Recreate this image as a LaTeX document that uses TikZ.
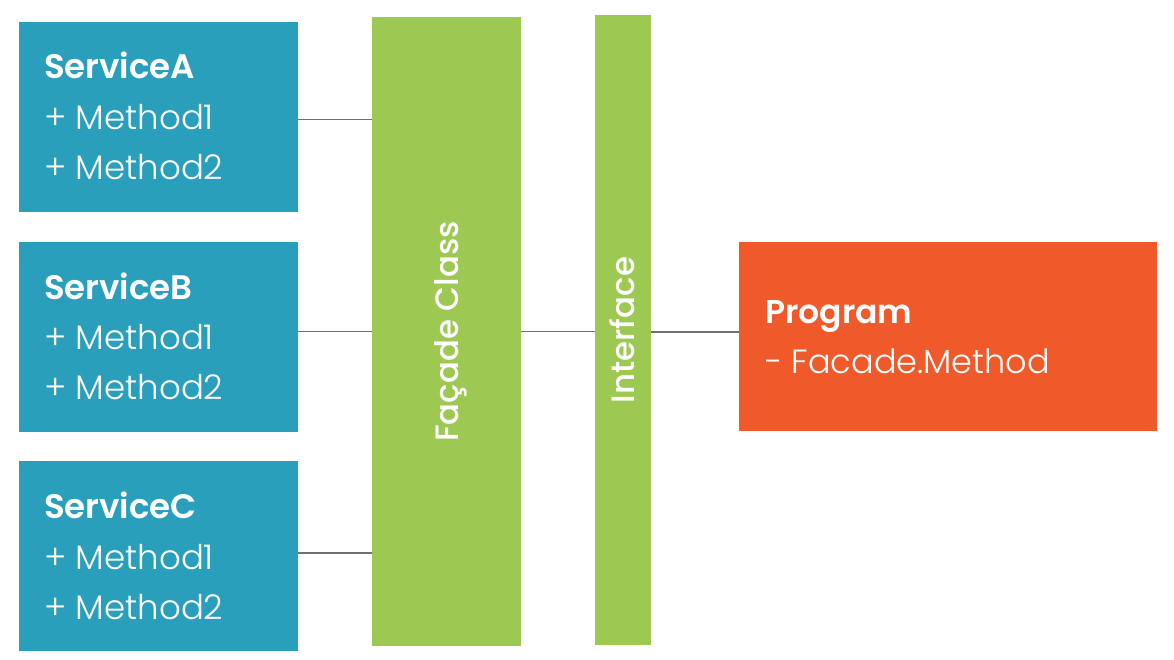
\documentclass[tikz,border=0pt]{standalone}
\usepackage{fontspec}
\setmainfont{Poppins}[UprightFont=* Light, BoldFont=* SemiBold]
\newfontfamily\vfont{Poppins}[UprightFont=* Medium]
\definecolor{svcblue}{HTML}{2A9FBC}
\definecolor{facgreen}{HTML}{9DC953}
\definecolor{progorange}{HTML}{F05A2A}
\definecolor{linegray}{HTML}{707070}
\tikzset{
  blockbox/.style={inner sep=0pt, outer sep=0pt, anchor=north west, draw=none},
  svcbox/.style={blockbox, fill=svcblue, minimum width=279pt, minimum height=190pt},
  titletext/.style={text=white, anchor=base west, inner sep=0pt, font=\fontsize{34}{34}\selectfont\bfseries},
  methtext/.style={text=white, anchor=base west, inner sep=0pt, font=\fontsize{34}{34}\selectfont},
  vtext/.style={text=white, rotate=90, inner sep=0pt, text height=23.5pt, text depth=0pt, anchor=center, font=\vfont\fontsize{32.4}{32.4}\selectfont},
  conn/.style={draw=linegray, line width=1.3pt}
}
\begin{document}
\begin{tikzpicture}[x=1pt,y=-1pt]
\useasboundingbox[fill=white] (0,0) rectangle (1174,660);
% service boxes
\node[svcbox] (svcA) at (19,22) {};
\node[svcbox] (svcB) at (19,242) {};
\node[svcbox] (svcC) at (19,461) {};
% facade and interface
\node[blockbox, fill=facgreen, minimum width=149pt, minimum height=629pt] (facade) at (372,17) {};
\node[blockbox, fill=facgreen, minimum width=56pt, minimum height=630pt] (iface) at (595,15) {};
% program
\node[blockbox, fill=progorange, minimum width=418pt, minimum height=189pt] (prog) at (739,242) {};
% texts
\node[titletext] (tA) at (44,79) {ServiceA};
\node[methtext] (mA1) at (44,130) {+ Method1};
\node[methtext] (mA2) at (44,180) {+ Method2};
\node[titletext] (tB) at (44,299) {ServiceB};
\node[methtext] (mB1) at (44,349) {+ Method1};
\node[methtext] (mB2) at (44,399) {+ Method2};
\node[titletext] (tC) at (44,518) {ServiceC};
\node[methtext] (mC1) at (44,569) {+ Method1};
\node[methtext] (mC2) at (44,619) {+ Method2};
\node[vtext] (fT) at (facade.center) {Façade Class};
\node[vtext] (iT) at (iface.center) {Interface};
\node[titletext, font=\fontsize{33}{33}\selectfont\bfseries] (pT) at (765,323) {Program};
\node[methtext, font=\fontsize{33.5}{33.5}\selectfont] (pM) at (765,373) {- Facade.Method};
% connectors
\draw[conn] (svcA.east |- 0,119.5) -- (facade.west |- 0,119.5);
\draw[conn] (svcB.east |- 0,331.5) -- (facade.west |- 0,331.5);
\draw[conn] (svcC.east |- 0,553) -- (facade.west |- 0,553);
\draw[conn] (facade.east |- 0,331.5) -- (iface.west |- 0,331.5);
\draw[conn] (iface.east |- 0,332) -- (prog.west |- 0,332);
\end{tikzpicture}
\end{document}
